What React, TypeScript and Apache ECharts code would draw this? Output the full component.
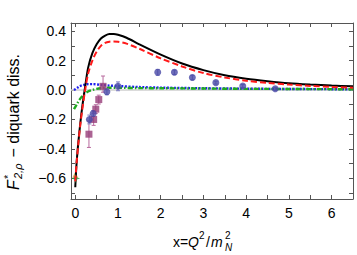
import React, { useEffect, useRef } from "react";
import * as echarts from "echarts";

// Tick values
const xTickValues = [0, 0.5, 1, 1.5, 2, 2.5, 3, 3.5, 4, 4.5, 5, 5.5, 6, 6.5];
const xLabelValues = [0, 1, 2, 3, 4, 5, 6];
const yTickValues = [-0.7, -0.6, -0.5, -0.4, -0.3, -0.2, -0.1, 0, 0.1, 0.2, 0.3, 0.4];
const yLabelValues = [-0.6, -0.4, -0.2, 0, 0.2, 0.4];

// Curves
const blackX = [0, 0.03, 0.07, 0.12, 0.17, 0.22, 0.3, 0.4, 0.5, 0.6, 0.7, 0.8, 0.9, 1.0, 1.2, 1.5, 2.0, 2.5, 3.0, 3.5, 4.0, 4.5, 5.0, 5.5, 6.0, 6.5];
const blackY = [-0.66, -0.5, -0.36, -0.22, -0.1, 0.0, 0.15, 0.25, 0.31, 0.35, 0.37, 0.38, 0.38, 0.375, 0.355, 0.31, 0.24, 0.18, 0.135, 0.1, 0.077, 0.06, 0.046, 0.037, 0.03, 0.025];
const redX = blackX;
const redY = [-0.62, -0.5, -0.37, -0.23, -0.12, -0.02, 0.11, 0.2, 0.26, 0.3, 0.32, 0.328, 0.33, 0.328, 0.315, 0.28, 0.215, 0.16, 0.115, 0.085, 0.063, 0.048, 0.037, 0.028, 0.021, 0.016];
const greenX = [-0.03, 0.05, 0.1, 0.2, 0.3, 0.4, 0.5, 0.6, 0.8, 1.0, 1.5, 2, 3, 4, 5, 6.5];
const greenY = [-0.13, -0.09, -0.065, -0.03, -0.01, 0.0, 0.008, 0.012, 0.015, 0.015, 0.013, 0.012, 0.01, 0.008, 0.007, 0.005];
const blueX = [-0.03, 0.05, 0.1, 0.2, 0.3, 0.4, 0.6, 0.8, 1.0, 1.5, 2, 3, 4, 5, 6.5];
const blueY = [0.0, 0.015, 0.025, 0.035, 0.04, 0.04, 0.035, 0.03, 0.027, 0.02, 0.016, 0.012, 0.009, 0.007, 0.005];

// Data points
const circleX = [0.33, 0.42, 0.74, 1.0, 1.93, 2.32, 2.74, 3.29, 3.92, 4.68];
const circleY = [-0.2, -0.16, -0.012, 0.025, 0.12, 0.12, 0.085, 0.05, 0.027, 0.008];
const circleErr = [0.03, 0.02, 0.02, 0.03, 0.02, 0.015, 0.015, 0.01, 0.01, 0.01];
const squareX = [0.32, 0.43, 0.48, 0.55, 0.65];
const squareY = [-0.3, -0.2, -0.13, -0.065, 0.025];
const squareErrLow = [0.09, 0.04, 0.03, 0.03, 0.04];
const squareErrHigh = [0.09, 0.04, 0.03, 0.03, 0.07];
const starPoint = [0.01, -0.6];
const orangePoint = [0.0, -0.575];

const zip = (xs: number[], ys: number[]) => xs.map((x, i) => [x, ys[i]]);
const fmtY = (v: number) => {
  const s = v.toFixed(1);
  return s.startsWith("-") ? "\u2212" + s.slice(1) : s;
};

function errorSeries(data: number[][], color: string) {
  return {
    type: "custom",
    data,
    z: 3,
    renderItem: (_p: any, api: any) => {
      const x = api.value(0);
      const a = api.coord([x, api.value(1)]);
      const b = api.coord([x, api.value(2)]);
      const st = { stroke: color, lineWidth: 1 };
      return {
        type: "group",
        children: [
          { type: "line", shape: { x1: a[0], y1: a[1], x2: b[0], y2: b[1] }, style: st },
          { type: "line", shape: { x1: a[0] - 2, y1: a[1], x2: a[0] + 2, y2: a[1] }, style: st },
          { type: "line", shape: { x1: b[0] - 2, y1: b[1], x2: b[0] + 2, y2: b[1] }, style: st },
        ],
      };
    },
  };
}

const FONT = "Liberation Sans, Arial, sans-serif";
const frameColor = "#555";

function txt(x: number, y: number, text: string, size: number, italic = false) {
  return {
    type: "text",
    x, y,
    style: { text, fontSize: size, fontStyle: italic ? "italic" : "normal", fontFamily: FONT, fill: "#000", align: "left", verticalAlign: "middle" },
  };
}

export default function App() {
  const ref = useRef<HTMLDivElement>(null);
  useEffect(() => {
    if (!ref.current) return;
    const chart = echarts.init(ref.current, null, { renderer: "svg" });
    const tickCommon = { inside: true, length: 4, lineStyle: { color: frameColor } };
    const lineCommon = { show: true, onZero: false, lineStyle: { color: frameColor, width: 1 } };
    const circleColor = "#4848a6";
    const squareColor = "#963c78";
    chart.setOption({
      animation: false,
      grid: { left: 71, right: 4, top: 23, bottom: 56, containLabel: false },
      xAxis: [
        {
          type: "value", min: -0.1, max: 6.5, position: "bottom",
          axisLine: lineCommon,
          axisTick: { ...tickCommon, customValues: xTickValues },
          axisLabel: { customValues: xLabelValues, margin: 7, fontSize: 14, color: "#000", fontFamily: FONT, formatter: (v: number) => String(v) },
          splitLine: { show: false },
        },
        {
          type: "value", min: -0.1, max: 6.5, position: "top",
          axisLine: lineCommon,
          axisTick: { ...tickCommon, customValues: xTickValues },
          axisLabel: { show: false },
          splitLine: { show: false },
        },
      ],
      yAxis: [
        {
          type: "value", min: -0.74, max: 0.455, position: "left",
          axisLine: lineCommon,
          axisTick: { ...tickCommon, customValues: yTickValues },
          axisLabel: { customValues: yLabelValues, margin: 5, fontSize: 14, color: "#000", fontFamily: FONT, formatter: fmtY },
          splitLine: { show: false },
        },
        {
          type: "value", min: -0.74, max: 0.455, position: "right",
          axisLine: lineCommon,
          axisTick: { ...tickCommon, customValues: yTickValues },
          axisLabel: { show: false },
          splitLine: { show: false },
        },
      ],
      series: [
        { type: "line", data: [[-0.1, 0], [6.5, 0]], showSymbol: false, lineStyle: { color: "#cfcfcf", width: 1.5 }, z: 1 },
        { type: "line", data: zip(blueX, blueY), showSymbol: false, smooth: 0.3, lineStyle: { color: "#1f1fef", width: 2.4, type: [2, 1.5] }, z: 2 },
        { type: "line", data: zip(greenX, greenY), showSymbol: false, smooth: 0.3, lineStyle: { color: "#1faa1f", width: 2.4, type: [5, 2, 1.5, 2] }, z: 2 },
        errorSeries(squareX.map((x, i) => [x, squareY[i] - squareErrLow[i], squareY[i] + squareErrHigh[i]]), "#b86a9e"),
        errorSeries(circleX.map((x, i) => [x, circleY[i] - circleErr[i], circleY[i] + circleErr[i]]), "#7a7ac0"),
        { type: "scatter", data: zip(squareX, squareY), symbol: "rect", symbolSize: 7, itemStyle: { color: squareColor }, z: 4 },
        { type: "scatter", data: zip(circleX, circleY), symbol: "circle", symbolSize: 7, itemStyle: { color: circleColor }, z: 4 },
        { type: "scatter", data: [orangePoint], symbol: "triangle", symbolSize: 6, itemStyle: { color: "#e0a040", opacity: 0.8 }, z: 4 },
        { type: "scatter", data: [starPoint], symbol: "path://M0,-5 L1.2,-1.2 L5,0 L1.2,1.2 L0,5 L-1.2,1.2 L-5,0 L-1.2,-1.2 Z", symbolSize: 9, itemStyle: { color: "#22a040" }, z: 5 },
        { type: "line", data: zip(redX, redY), showSymbol: false, smooth: 0.3, lineStyle: { color: "#ff1a1a", width: 2, type: [6, 3] }, z: 6 },
        { type: "line", data: zip(blackX, blackY), showSymbol: false, smooth: 0.3, lineStyle: { color: "#000", width: 2 }, z: 5 },
      ],
      graphic: [
        {
          type: "group",
          x: 13, y: 111,
          rotation: Math.PI / 2,
          children: [
            txt(-79, 0, "F", 16, true),
            txt(-68, -5, "*", 11),
            txt(-68, 5, "2,ρ", 11, true),
            txt(-51, 0, " − diquark diss.", 16),
          ],
        },
        txt(173, 242, "x=", 14),
        txt(188, 242, "Q", 14, true),
        txt(199, 235, "2", 10),
        txt(206, 242, "/", 14),
        txt(211, 242, "m", 14, true),
        txt(225, 235, "2", 10),
        txt(225, 247, "N", 10, true),
      ],
    });
    return () => chart.dispose();
  }, []);
  return <div ref={ref} style={{ position: "absolute", left: 0, top: 0, width: 357, height: 255 }} />;
}
